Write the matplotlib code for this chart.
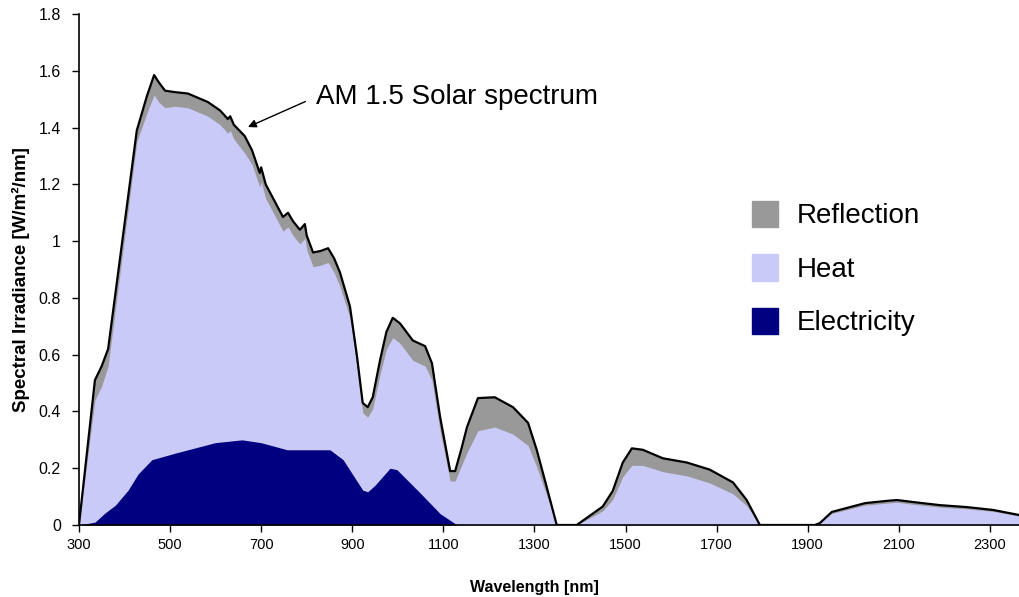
import matplotlib.pyplot as plt
import numpy as np
from matplotlib.patches import Patch
from matplotlib.ticker import FormatStrFormatter

plt.rcParams['font.family'] = ['Liberation Sans', 'DejaVu Sans']

# AM 1.5 spectrum (nm, W/m2/nm)
wl = [300, 335, 350, 364, 427, 449, 465, 475, 489, 510, 539, 583, 610, 627, 632, 640,
      664, 680, 697, 700, 710, 748, 759, 770, 785, 796, 800, 814, 830, 847, 860, 873,
      895, 910, 923, 934, 945, 961, 975, 989, 1005, 1033, 1060, 1075, 1093, 1115, 1126,
      1140, 1152, 1176, 1213, 1253, 1286, 1305, 1327, 1349, 1393, 1428, 1450, 1472, 1494,
      1514, 1538, 1582, 1635, 1685, 1736, 1766, 1795, 1825, 1916, 1927, 1953, 1986, 2026,
      2074, 2096, 2131, 2190, 2250, 2307, 2365]
total = [0, 0.51, 0.56, 0.62, 1.39, 1.51, 1.585, 1.56, 1.53, 1.525, 1.52, 1.49, 1.46, 1.43, 1.44, 1.41,
         1.37, 1.32, 1.24, 1.26, 1.20, 1.085, 1.10, 1.07, 1.04, 1.06, 1.02, 0.96, 0.965, 0.975, 0.94, 0.89,
         0.77, 0.60, 0.43, 0.415, 0.45, 0.58, 0.68, 0.73, 0.71, 0.65, 0.63, 0.57, 0.38, 0.19, 0.19,
         0.27, 0.345, 0.447, 0.45, 0.415, 0.36, 0.265, 0.134, 0, 0, 0.04, 0.065, 0.12, 0.22,
         0.27, 0.265, 0.235, 0.22, 0.195, 0.15, 0.088, 0, 0, 0, 0.007, 0.046, 0.06, 0.077,
         0.085, 0.088, 0.081, 0.07, 0.063, 0.053, 0.035]
reflection = [0, 0.07, 0.07, 0.06, 0.04, 0.06, 0.07, 0.07, 0.06, 0.05, 0.05, 0.05, 0.05, 0.05, 0.05, 0.05,
              0.06, 0.05, 0.05, 0.05, 0.05, 0.05, 0.05, 0.05, 0.05, 0.05, 0.05, 0.05, 0.05, 0.05, 0.05, 0.05,
              0.04, 0.04, 0.035, 0.035, 0.04, 0.05, 0.06, 0.07, 0.07, 0.07, 0.07, 0.06, 0.05, 0.035, 0.035,
              0.06, 0.09, 0.115, 0.105, 0.095, 0.08, 0.06, 0.03, 0, 0, 0.01, 0.015, 0.03, 0.05,
              0.06, 0.055, 0.047, 0.047, 0.047, 0.04, 0.02, 0, 0, 0, 0, 0.005, 0.006, 0.007,
              0.008, 0.008, 0.008, 0.007, 0.006, 0.005, 0.004]

wl_el = [300, 335, 357, 380, 408, 430, 460, 511, 599, 658, 700, 757, 851, 880, 923, 934,
         950, 983, 998, 1049, 1093, 1121, 1130]
electricity = [0, 0.01, 0.042, 0.07, 0.123, 0.18, 0.23, 0.253, 0.29, 0.30, 0.29, 0.265, 0.265, 0.23, 0.123, 0.117,
               0.14, 0.20, 0.195, 0.113, 0.04, 0.01, 0]

c_refl = '#999999'
c_heat = '#cacaf8'
c_elec = '#000080'

wl = np.array(wl)
total = np.array(total)
absorbed = total - np.array(reflection)

fig = plt.figure(figsize=(10.19, 5.97), dpi=100)
ax = fig.add_axes([0.0775, 0.1206, 0.9225, 0.8559])

ax.fill_between(wl, 0, total, color=c_refl, lw=0)
ax.fill_between(wl, 0, absorbed, color=c_heat, lw=0)
ax.fill_between(wl_el, 0, electricity, color=c_elec, lw=0)
ax.plot(wl, total, color='black', lw=1.6)

ax.set_xlim(300, 2364)
ax.set_ylim(0, 1.8)
ax.set_xticks(np.arange(300, 2301, 200))
ax.set_yticks(np.arange(0, 1.81, 0.2))
ax.yaxis.set_major_formatter(FormatStrFormatter('%g'))
ax.tick_params(direction='out', length=5, width=1)
ax.tick_params(axis='x', labelsize=10.5, pad=4)
ax.tick_params(axis='y', labelsize=11.5, pad=8)
for s in ['top', 'right']:
    ax.spines[s].set_visible(False)
ax.spines['left'].set_linewidth(1.2)
ax.spines['bottom'].set_linewidth(1.2)

ax.set_xlabel('Wavelength [nm]', fontsize=11.5, fontweight='bold')
ax.set_ylabel('Spectral Irradiance [W/m²/nm]', fontsize=13.5, fontweight='bold')
ax.xaxis.set_label_coords(0.485, -0.108)
ax.yaxis.set_label_coords(-0.052, 0.48)

ax.annotate('AM 1.5 Solar spectrum', xy=(671, 1.402), xytext=(820, 1.508),
            fontsize=20, ha='left', va='center',
            arrowprops=dict(arrowstyle='-|>', color='black', lw=1, shrinkA=6, shrinkB=0,
                            mutation_scale=12, relpos=(0, 0.5)))

handles = [Patch(color=c_refl, label='Reflection'),
           Patch(color=c_heat, label='Heat'),
           Patch(color=c_elec, label='Electricity')]
fig.legend(handles=handles, loc='upper left', bbox_to_anchor=(0.738, 0.664), frameon=False,
           fontsize=20, handlelength=0.94, handleheight=1.08, handletextpad=0.68,
           labelspacing=0.9, borderpad=0, borderaxespad=0)

fig.savefig('out.png', dpi=100)
